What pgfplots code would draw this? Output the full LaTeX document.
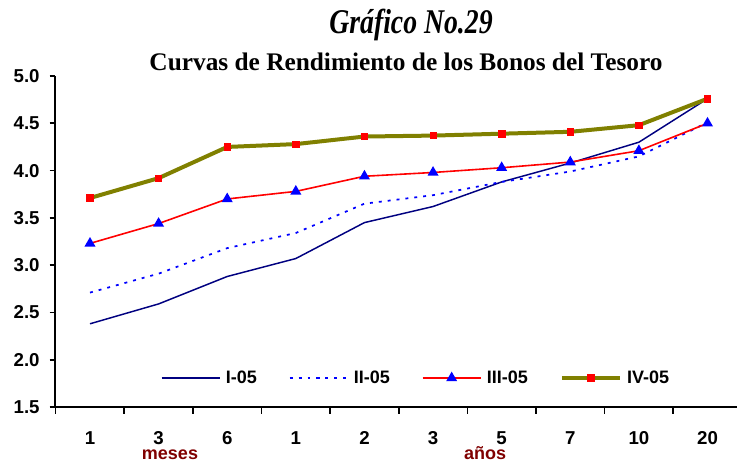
\documentclass[border=0pt]{standalone}
\usepackage{pgfplots}
\pgfplotsset{compat=1.18}
\usepackage{fontspec}
\setmainfont{Liberation Sans}
\newfontfamily\tnr{Liberation Serif}
\definecolor{navy}{HTML}{000080}
\definecolor{olivo}{HTML}{808000}
\definecolor{granate}{HTML}{800000}

\begin{document}
\begin{tikzpicture}
\begin{axis}[
  scale only axis, width=511.5pt, height=248.25pt,
  at={(0,0)}, anchor=south west,
  xmin=-0.51, xmax=9.43, ymin=1.5, ymax=5.0,
  axis lines=left, axis line style={-, line width=1.2pt},
  clip=false,
  xtick={0,...,9},
  xticklabels={1,3,6,1,2,3,5,7,10,20},
  minor xtick={-0.5,0.5,1.5,2.5,3.5,4.5,5.5,6.5,7.5,8.5},
  major x tick style={draw=none},
  minor tick length=5pt,
  ytick={1.5,2.0,...,5.0},
  major tick length=4pt,
  tick align=outside,
  tick style={black, line width=1.2pt},
  ticklabel style={font=\fontsize{14}{16}\selectfont\bfseries},
  xticklabel style={inner sep=0pt, yshift=-14.5pt},
  yticklabel style={xshift=-4pt},
  /pgf/number format/assume math mode=true,
  yticklabel style={/pgf/number format/.cd, fixed, fixed zerofill, precision=1},
  legend columns=4,
  legend style={draw=none, fill=none, inner sep=0pt,
    at={(0.155,0.0876)}, anchor=west,
    font=\fontsize{13.5}{15}\selectfont\bfseries,
    /tikz/every odd column/.append style={column sep=2pt},
    /tikz/every even column/.append style={column sep=22pt}},
  legend image code/.code={\draw[mark repeat=2, mark phase=2] plot coordinates {(0pt,0pt) (21.75pt,0pt) (43.5pt,0pt)};},
]
\addplot[navy, line width=1.1pt] coordinates {
(0,2.38) (1,2.59) (2,2.88) (3,3.07) (4,3.45) (5,3.62) (6,3.88) (7,4.08) (8,4.30) (9,4.76)};
\addlegendentry{I-05}
\addplot[blue, line width=1.3pt, dash pattern=on 2.2pt off 4.5pt] coordinates {
(0,2.71) (1,2.91) (2,3.18) (3,3.34) (4,3.65) (5,3.74) (6,3.88) (7,3.99) (8,4.15) (9,4.51)};
\addlegendentry{II-05}
\addplot[red, line width=1.2pt, mark=triangle*, mark size=3.6pt, mark options={blue, fill=blue, solid}] coordinates {
(0,3.23) (1,3.44) (2,3.70) (3,3.78) (4,3.94) (5,3.98) (6,4.03) (7,4.09) (8,4.21) (9,4.50)};
\addlegendentry{III-05}
\addplot[olivo, line width=3pt, mark=square*, mark size=2.4pt, mark options={red, fill=red, line width=0.5pt}] coordinates {
(0,3.71) (1,3.92) (2,4.25) (3,4.28) (4,4.36) (5,4.37) (6,4.39) (7,4.41) (8,4.48) (9,4.76)};
\addlegendentry{IV-05}
\end{axis}
\node[anchor=base] at (267pt,280.5pt) {\scalebox{0.8}[1]{\tnr\fontsize{26}{30}\selectfont\bfseries\itshape Gráfico No.29}};
\node[anchor=base] at (263.25pt,252.75pt) {\tnr\fontsize{19}{22}\selectfont\bfseries Curvas de Rendimiento de los Bonos del Tesoro};
\node[anchor=base, text=granate, inner sep=0pt] at (86.25pt,-39.6pt) {\fontsize{13.5}{16}\selectfont\bfseries meses};
\node[anchor=base, text=granate, inner sep=0pt] at (322.5pt,-39.6pt) {\fontsize{13.5}{16}\selectfont\bfseries años};
\pgfresetboundingbox
\path[use as bounding box] (-41.25pt,-41.25pt) rectangle (511.5pt,305.25pt);
\end{tikzpicture}
\end{document}
